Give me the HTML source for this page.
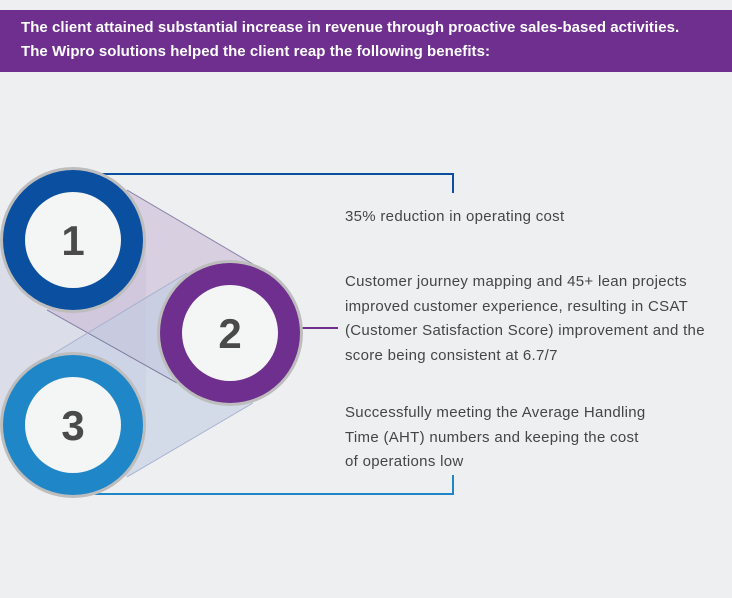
<!DOCTYPE html>
<html><head><style>
body{margin:0;width:732px;height:598px;background:#eeeff1;font-family:"Liberation Sans",sans-serif;position:relative;overflow:hidden}
.banner{position:absolute;left:0;top:10px;width:732px;height:62px;background:#6e2f8e;color:#fff;font-weight:bold;font-size:15px;letter-spacing:0.05px}
.banner div{position:absolute;left:21px;white-space:nowrap}
.t{position:absolute;left:345px;font-size:15px;letter-spacing:0.3px;color:#454545;line-height:24.5px;white-space:nowrap}
</style></head><body>
<div class="banner"><div style="top:9px">The client attained substantial increase in revenue through proactive sales-based activities.</div><div style="top:33px">The Wipro solutions helped the client reap the following benefits:</div></div>
<svg width="732" height="598" style="position:absolute;left:0;top:0">
<rect x="0" y="240" width="146" height="185" fill="#cfd2e4" opacity="0.6"/>
<polygon points="127,190 263,270 177,383 47,310" fill="#c9b9d6" opacity="0.6"/>
<polygon points="43,360 187,273 253,403 127,477" fill="#c2cde2" opacity="0.6"/>
<line x1="127" y1="190" x2="263" y2="270" stroke="#8a84a8" stroke-width="1"/>
<line x1="47" y1="310" x2="177" y2="383" stroke="#7c7aa0" stroke-width="1"/>
<line x1="43" y1="360" x2="187" y2="273" stroke="#a9b1cf" stroke-width="1"/>
<line x1="127" y1="477" x2="253" y2="403" stroke="#a9b1cf" stroke-width="1"/>
<polyline points="100,174 453,174 453,193" fill="none" stroke="#0a4fa0" stroke-width="2"/>
<polyline points="95,494 453,494 453,475" fill="none" stroke="#1f87c8" stroke-width="2"/>
<line x1="302" y1="328" x2="338" y2="328" stroke="#6e2f8e" stroke-width="2"/>
<g font-family="Liberation Sans" font-weight="bold" font-size="42" fill="#4a4a4a" text-anchor="middle">
<circle cx="73" cy="240" r="73" fill="#bdbdbd"/><circle cx="73" cy="240" r="70" fill="#0a4fa0"/><circle cx="73" cy="240" r="48" fill="#f4f5f5"/><text x="73" y="255">1</text>
<circle cx="230" cy="333" r="73" fill="#bdbdbd"/><circle cx="230" cy="333" r="70" fill="#6e2f8e"/><circle cx="230" cy="333" r="48" fill="#f4f5f5"/><text x="230" y="348">2</text>
<circle cx="73" cy="425" r="73" fill="#bdbdbd"/><circle cx="73" cy="425" r="70" fill="#1f87c8"/><circle cx="73" cy="425" r="48" fill="#f4f5f5"/><text x="73" y="440">3</text>
</g>
</svg>
<div class="t" style="top:205px">35% reduction in operating cost</div>
<div class="t" style="top:270px">Customer journey mapping and 45+ lean projects<br>improved customer experience, resulting in CSAT<br>(Customer Satisfaction Score) improvement and the<br>score being consistent at 6.7/7</div>
<div class="t" style="top:401px">Successfully meeting the Average Handling<br>Time (AHT) numbers and keeping the cost<br>of operations low</div>
</body></html>
